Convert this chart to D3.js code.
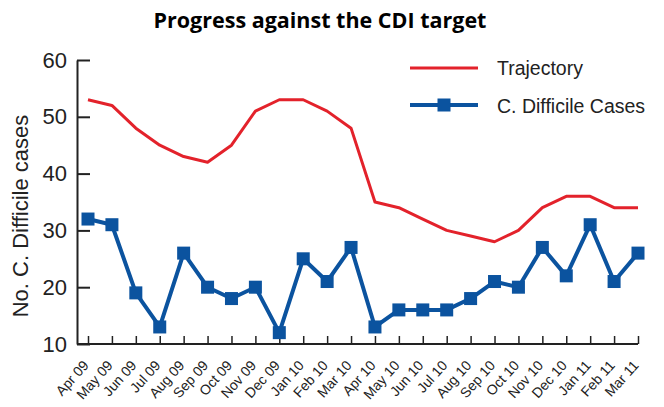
<!DOCTYPE html>
<html>
<head>
<meta charset="utf-8">
<script src="https://cdn.jsdelivr.net/npm/d3@7"></script>
<style>
  html, body { margin: 0; padding: 0; background: #fff; }
  svg { display: block; }
</style>
</head>
<body>
<svg id="chart" width="664" height="407"></svg>
<script>
// Monthly data, April 2009 to March 2011
const months = ["Apr 09","May 09","Jun 09","Jul 09","Aug 09","Sep 09","Oct 09","Nov 09","Dec 09","Jan 10","Feb 10","Mar 10",
                "Apr 10","May 10","Jun 10","Jul 10","Aug 10","Sep 10","Oct 10","Nov 10","Dec 10","Jan 11","Feb 11","Mar 11"];
const trajectory = [53,52,48,45,43,42,45,51,53,53,51,48,35,34,32,30,29,28,30,34,36,36,34,34];
const cases = [32,31,19,13,26,20,18,20,12,25,21,27,13,16,16,16,18,21,20,27,22,31,21,26];
const yTicks = [10,20,30,40,50,60];

const svg = d3.select("#chart");
const RED = "#e3222b", BLUE = "#0b539f";
const SANS = "'Liberation Sans', Arial, sans-serif";

const x = d3.scalePoint().domain(months).range([88, 638]);
const y = d3.scaleLinear().domain([10, 60]).range([344, 60]);

// Title
svg.append("text")
  .attr("x", 320).attr("y", 28)
  .attr("text-anchor", "middle")
  .style("font-family", "'Open Sans', sans-serif")
  .style("font-weight", "bold")
  .style("font-size", "21.5px")
  .text("Progress against the CDI target");

// Y axis (ticks point inward)
const yAxis = svg.append("g").attr("transform", "translate(77,0)")
  .call(d3.axisLeft(y).tickValues(yTicks).tickSize(-13).tickSizeOuter(0).tickPadding(10));
yAxis.select(".domain").attr("stroke", "#222").attr("stroke-width", 2);
yAxis.selectAll(".tick line").attr("stroke", "#222").attr("stroke-width", 2);
yAxis.selectAll(".tick text")
  .style("font-family", SANS)
  .style("font-size", "22px").attr("fill", "#222");

// X axis (ticks point inward)
const xAxis = svg.append("g").attr("transform", "translate(0,344)")
  .call(d3.axisBottom(x).tickSize(-8).tickSizeOuter(0).tickFormat(""));
xAxis.select(".domain").attr("stroke", "#222").attr("stroke-width", 2)
  .attr("d", "M77,0H638");
xAxis.selectAll(".tick line").attr("stroke", "#222").attr("stroke-width", 1.5);
xAxis.selectAll(".tick").append("text")
  .attr("text-anchor", "end")
  .attr("transform", "translate(1,22) rotate(-48)")
  .attr("fill", "#222")
  .style("font-family", SANS)
  .style("font-size", "14px")
  .text(d => d);

// Y axis title
svg.append("text")
  .attr("transform", "translate(28,216) rotate(-90)")
  .attr("text-anchor", "middle")
  .style("font-family", SANS)
  .style("font-size", "22px").attr("fill", "#222")
  .text("No. C. Difficile cases");

// Trajectory line
svg.append("path")
  .datum(trajectory)
  .attr("fill", "none").attr("stroke", RED).attr("stroke-width", 3)
  .attr("stroke-linejoin", "round")
  .attr("d", d3.line().x((d, i) => x(months[i])).y(d => y(d)));

// Cases line with square markers
svg.append("path")
  .datum(cases)
  .attr("fill", "none").attr("stroke", BLUE).attr("stroke-width", 4)
  .attr("stroke-linejoin", "round")
  .attr("d", d3.line().x((d, i) => x(months[i])).y(d => y(d)));

const ms = 13;
svg.append("g").selectAll("rect").data(cases).join("rect")
  .attr("x", (d, i) => x(months[i]) - ms / 2)
  .attr("y", d => y(d) - ms / 2)
  .attr("width", ms).attr("height", ms)
  .attr("fill", BLUE);

// Legend
const leg = svg.append("g");
leg.append("line").attr("x1", 410).attr("x2", 478).attr("y1", 68).attr("y2", 68)
  .attr("stroke", RED).attr("stroke-width", 3);
leg.append("text").attr("x", 497).attr("y", 75)
  .style("font-family", SANS)
  .style("font-size", "19.5px").attr("fill", "#222").text("Trajectory");
leg.append("line").attr("x1", 410).attr("x2", 478).attr("y1", 105).attr("y2", 105)
  .attr("stroke", BLUE).attr("stroke-width", 4);
leg.append("rect").attr("x", 444 - ms / 2).attr("y", 105 - ms / 2)
  .attr("width", ms).attr("height", ms).attr("fill", BLUE);
leg.append("text").attr("x", 497).attr("y", 113)
  .style("font-family", SANS)
  .style("font-size", "19.5px").attr("fill", "#222").text("C. Difficile Cases");
</script>
</body>
</html>
